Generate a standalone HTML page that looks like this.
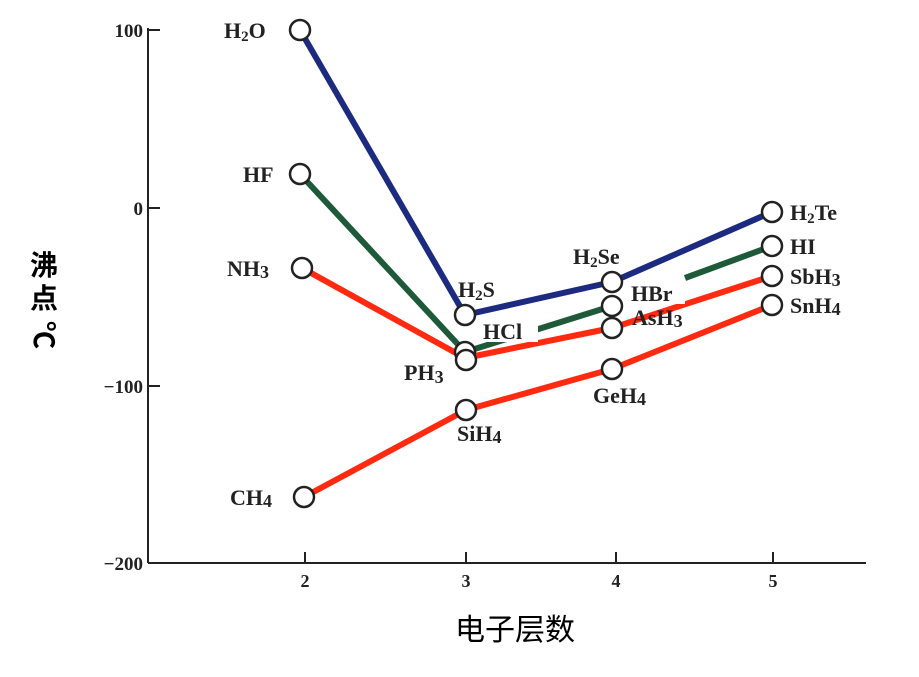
<!DOCTYPE html>
<html><head><meta charset="utf-8"><style>
body{margin:0;background:#fff}
svg text{font-family:"Liberation Serif",serif;font-weight:bold;fill:#222}
</style></head><body>
<svg width="919" height="672" viewBox="0 0 919 672" xmlns="http://www.w3.org/2000/svg">
<g stroke="#222" stroke-width="2" fill="none">
<line x1="148" y1="28" x2="148" y2="563"/>
<line x1="148" y1="563" x2="866" y2="563"/>
<line x1="148" y1="30" x2="160" y2="30"/>
<line x1="148" y1="208" x2="160" y2="208"/>
<line x1="148" y1="386" x2="160" y2="386"/>
<line x1="305" y1="552" x2="305" y2="563"/>
<line x1="466" y1="552" x2="466" y2="563"/>
<line x1="616" y1="552" x2="616" y2="563"/>
<line x1="773" y1="552" x2="773" y2="563"/>
</g>
<g font-size="19" text-anchor="end">
<text x="143" y="37">100</text><text x="143" y="215">0</text>
<text x="143" y="393">−100</text><text x="143" y="570">−200</text>
</g>
<g font-size="18" text-anchor="middle">
<text x="305" y="587">2</text><text x="466" y="587">3</text><text x="616" y="587">4</text><text x="773" y="587">5</text>
</g>
<text x="515" y="640" font-size="30" text-anchor="middle" style="font-family:'Noto Sans CJK SC',sans-serif;font-weight:normal;fill:#000">电子层数</text>
<g font-size="28" text-anchor="middle" style="font-family:'Noto Sans CJK SC',sans-serif;font-weight:bold;fill:#000">
<text x="44" y="275" style="font-family:'Noto Sans CJK SC',sans-serif;font-weight:bold;fill:#000">沸</text>
<text x="44" y="308" style="font-family:'Noto Sans CJK SC',sans-serif;font-weight:bold;fill:#000">点</text>
<text transform="translate(34,335) rotate(90)" style="font-family:'Noto Sans CJK SC',sans-serif;font-weight:bold;fill:#000">℃</text>
</g>
<g stroke-width="6" fill="none" stroke-linejoin="round">
<polyline stroke="#1c2a80" points="300,30 465,315 612,282 772,212"/>
<polyline stroke="#1e5a3a" points="300,174 465,352 612,306"/>
<line stroke="#1e5a3a" x1="685" y1="278" x2="772" y2="246"/>
<polyline stroke="#ff2a10" points="302,268 465,358 612,328 772,276"/>
<polyline stroke="#ff2a10" points="304,497 466,410 612,369 772,305"/>
</g>
<rect x="480" y="318" width="58" height="24" fill="#fff"/>
<rect x="630" y="282" width="55" height="22" fill="#fff"/>
<g stroke="#222" stroke-width="2.5" fill="#fff">
<circle cx="300" cy="30" r="10"/><circle cx="465" cy="315" r="10"/><circle cx="612" cy="282" r="10"/><circle cx="772" cy="212" r="10"/>
<circle cx="300" cy="174" r="10"/><circle cx="465" cy="352" r="10"/><circle cx="612" cy="306" r="10"/><circle cx="772" cy="246" r="10"/>
<circle cx="302" cy="268" r="10"/><circle cx="466" cy="360" r="10"/><circle cx="612" cy="328" r="10"/><circle cx="772" cy="276" r="10"/>
<circle cx="304" cy="497" r="10"/><circle cx="466" cy="410" r="10"/><circle cx="612" cy="369" r="10"/><circle cx="772" cy="305" r="10"/>
</g>
<g font-size="22">
<text x="224" y="38">H<tspan font-size="15" dy="3">2</tspan><tspan dy="-3">O</tspan></text>
<text x="243" y="182">HF</text>
<text x="227" y="276">NH<tspan font-size="18" dy="2">3</tspan></text>
<text x="230" y="505">CH<tspan font-size="18" dy="2">4</tspan></text>
<text x="458" y="297">H<tspan font-size="15" dy="3">2</tspan><tspan dy="-3">S</tspan></text>
<text x="483" y="339">HCl</text>
<text x="404" y="380">PH<tspan font-size="18" dy="3">3</tspan></text>
<text x="457" y="441">SiH<tspan font-size="18" dy="2">4</tspan></text>
<text x="573" y="264">H<tspan font-size="15" dy="3">2</tspan><tspan dy="-3">Se</tspan></text>
<text x="631" y="301">HBr</text>
<text x="632" y="325">AsH<tspan font-size="18" dy="2">3</tspan></text>
<text x="593" y="403">GeH<tspan font-size="18" dy="2">4</tspan></text>
<text x="790" y="220">H<tspan font-size="15" dy="3">2</tspan><tspan dy="-3">Te</tspan></text>
<text x="790" y="254">HI</text>
<text x="790" y="284">SbH<tspan font-size="18" dy="2">3</tspan></text>
<text x="790" y="313">SnH<tspan font-size="18" dy="2">4</tspan></text>
</g>
</svg>
</body></html>
